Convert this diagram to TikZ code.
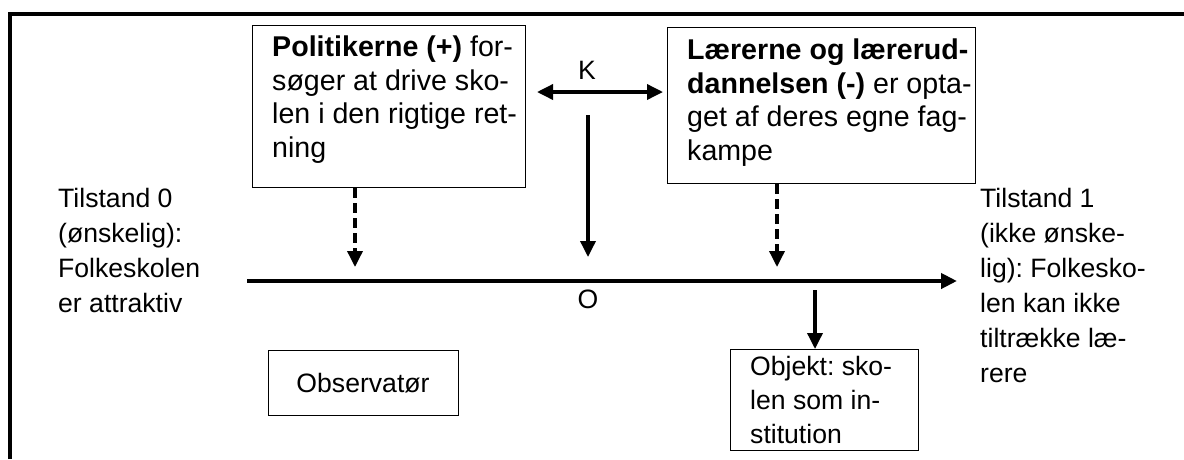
\documentclass[tikz,border=0pt]{standalone}
\usepackage{fontspec}
\setmainfont{Liberation Sans}
\usetikzlibrary{arrows.meta}
\frenchspacing
\begin{document}
\begin{tikzpicture}[x=1pt,y=-1pt,
  box/.style={draw, line width=1pt, inner sep=0pt, anchor=north west},
  txt/.style={inner sep=0pt, align=left, anchor=north west, font=\fontsize{28.6}{33.5}\selectfont},
  side/.style={inner sep=0pt, align=left, anchor=north west, font=\fontsize{26.6}{35}\selectfont},
  lbl/.style={inner sep=0pt, font=\fontsize{26.6}{32}\selectfont},
  tip/.style={-{Triangle[length=16pt,width=15pt]}},
  arr/.style={line width=3.5pt, tip},
  darr/.style={line width=3.5pt, tip, dash pattern=on 10pt off 5pt},
]
\useasboundingbox (0,0) rectangle (1184,459);

% open frame: top and left edges only
\draw[line width=4pt] (10,459) -- (10,14) -- (1184,14);

% actor boxes
\node[box, minimum width=273pt, minimum height=162pt] (pol) at (252,25) {};
\node[txt] (poltxt) at (272,36) {\textbf{Politikerne (+)} for-\\søger at drive sko-\\len i den rigtige ret-\\ning};

\node[box, minimum width=308pt, minimum height=156pt] (laer) at (667,27) {};
\node[txt] (laertxt) at (687,39) {\textbf{Lærerne og lærerud-}\\\textbf{dannelsen (-)} er opta-\\get af deres egne fag-\\kampe};

% conflict between the two actors
\coordinate (kl) at (537,92);
\coordinate (kr) at (663,92);
\draw[line width=3.5pt, {Triangle[length=16pt,width=15pt]}-{Triangle[length=16pt,width=15pt]}] (kl) -- (kr);
\node[lbl] (k) at (587,70) {K};

% states on either side of the development line
\node[side] (t0) at (58,188) {Tilstand 0\\(ønskelig):\\Folkeskolen\\er attraktiv};
\node[side] (t1) at (980,188) {Tilstand 1\\(ikke ønske-\\lig): Folkesko-\\len kan ikke\\tiltrække læ-\\rere};

% development line
\coordinate (ls) at (247,281);
\coordinate (le) at (957,281);
\draw[line width=4.5pt, tip] (ls) -- (le);
\node[lbl] (o) at (588,299) {O};

% influences on the line
\coordinate (ktop) at (588,115);
\coordinate (kbot) at (588,257);
\draw[arr] (ktop) -- (kbot);
\coordinate (pd) at (355,267);
\draw[darr] (pol.south -| pd) -- (pd);
\coordinate (ld) at (777,267);
\draw[darr] (laer.south -| ld) -- (ld);

% observer and object
\node[box, minimum width=190pt, minimum height=65pt] (obs) at (268,350) {};
\node[lbl] (obstxt) at (363,383) {Observatør};

\node[box, minimum width=188pt, minimum height=101pt] (obj) at (730,349) {};
\node[side, font=\fontsize{26.6}{34}\selectfont] (objtxt) at (750,356) {Objekt: sko-\\len som in-\\stitution};

\coordinate (os) at (815,290);
\draw[arr] (os) -- (obj.north -| os);
\end{tikzpicture}
\end{document}
